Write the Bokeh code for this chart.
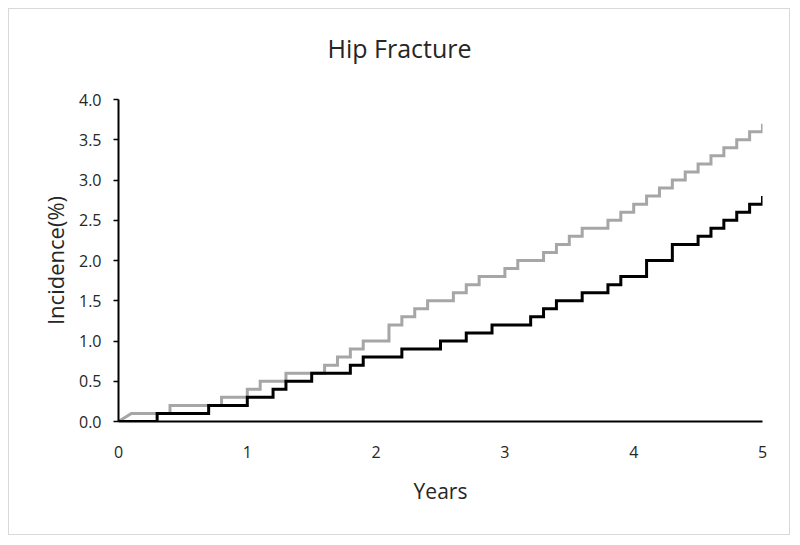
from bokeh.plotting import figure
from bokeh.models import Range1d, FixedTicker, NumeralTickFormatter, Title
from bokeh.embed import file_html
from bokeh.resources import INLINE

chart_title = "Hip Fracture"
x_label = "Years"
y_label = "Incidence(%)"

x_ticks = [0, 1, 2, 3, 4, 5]
y_ticks = [0.0, 0.5, 1.0, 1.5, 2.0, 2.5, 3.0, 3.5, 4.0]

# grey series (event times in years, cumulative incidence in %)
gray_t = [0.0, 0.1, 0.4, 0.8, 1.0, 1.1, 1.3, 1.6, 1.7, 1.8, 1.9,
          2.1, 2.2, 2.3, 2.4, 2.6, 2.7, 2.8, 3.0, 3.1, 3.3, 3.4, 3.5, 3.6,
          3.8, 3.9, 4.0, 4.1, 4.2, 4.3, 4.4, 4.5, 4.6, 4.7, 4.8, 4.9, 5.0]
gray_v = [0.0, 0.1, 0.2, 0.3, 0.4, 0.5, 0.6, 0.7, 0.8, 0.9, 1.0,
          1.2, 1.3, 1.4, 1.5, 1.6, 1.7, 1.8, 1.9, 2.0, 2.1, 2.2, 2.3, 2.4,
          2.5, 2.6, 2.7, 2.8, 2.9, 3.0, 3.1, 3.2, 3.3, 3.4, 3.5, 3.6, 3.7]

# black series
black_t = [0.0, 0.3, 0.7, 1.0, 1.2, 1.3, 1.5, 1.8, 1.9, 2.2, 2.5, 2.7, 2.9,
           3.2, 3.3, 3.4, 3.6, 3.8, 3.9, 4.1, 4.3, 4.5, 4.6, 4.7, 4.8, 4.9, 5.0]
black_v = [0.0, 0.1, 0.2, 0.3, 0.4, 0.5, 0.6, 0.7, 0.8, 0.9, 1.0, 1.1, 1.2,
           1.3, 1.4, 1.5, 1.6, 1.7, 1.8, 2.0, 2.2, 2.3, 2.4, 2.5, 2.6, 2.7, 2.8]


def staircase(ts, vs, direct_first=False):
    xs, ys = [ts[0]], [vs[0]]
    start = 1
    if direct_first:
        xs.append(ts[1]); ys.append(vs[1])
        start = 2
    for i in range(start, len(ts)):
        xs += [ts[i], ts[i]]
        ys += [vs[i - 1], vs[i]]
    return xs, ys


FONT = "Open Sans"
TXT = "#262626"

p = figure(width=782, height=527, output_backend="svg", toolbar_location=None,
           x_range=Range1d(0, 5), y_range=Range1d(0, 4),
           min_border_left=109, min_border_right=29,
           min_border_top=90, min_border_bottom=115)
p.styles = {"border": "1px solid #D9D9D9", "margin-left": "8px", "margin-top": "8px"}
p.outline_line_color = None
p.xgrid.grid_line_color = None
p.ygrid.grid_line_color = None
p.background_fill_color = "white"
p.border_fill_color = "white"

p.title.text = chart_title
p.title.align = "left"
p.title.offset = 209
p.title.standoff = 0
p.title.text_font = FONT
p.title.text_font_size = "25px"
p.title.text_font_style = "normal"
p.title.text_color = TXT

# blank spacer panel between the title and the plot frame
p.add_layout(Title(text=" ", text_font_size="1px", standoff=32), "above")

gx, gy = staircase(gray_t, gray_v, direct_first=True)
bx, by = staircase(black_t, black_v)
p.line(gx, gy, line_color="#A6A6A6", line_width=3, line_join="miter")
p.line(bx, by, line_color="#000000", line_width=3, line_join="miter")

xa = p.xaxis[0]
xa.ticker = FixedTicker(ticks=x_ticks)
xa.axis_line_color = "black"
xa.axis_line_width = 2
xa.major_tick_line_color = None
xa.minor_tick_line_color = None
xa.major_label_standoff = 18
xa.major_label_text_font = FONT
xa.major_label_text_font_size = "16px"
xa.major_label_text_color = TXT
xa.axis_label = x_label
xa.axis_label_standoff = 16
xa.axis_label_text_font = FONT
xa.axis_label_text_font_size = "21px"
xa.axis_label_text_font_style = "normal"
xa.axis_label_text_color = TXT

ya = p.yaxis[0]
ya.ticker = FixedTicker(ticks=y_ticks)
ya.formatter = NumeralTickFormatter(format="0.0")
ya.axis_line_color = "black"
ya.axis_line_width = 2
ya.major_tick_line_color = "black"
ya.major_tick_line_width = 1.5
ya.major_tick_in = 0
ya.major_tick_out = 5
ya.minor_tick_line_color = None
ya.major_label_standoff = 12
ya.major_label_text_font = FONT
ya.major_label_text_font_size = "16px"
ya.major_label_text_color = TXT
ya.axis_label = y_label
ya.axis_label_standoff = 6
ya.axis_label_text_font = FONT
ya.axis_label_text_font_size = "22px"
ya.axis_label_text_font_style = "normal"
ya.axis_label_text_color = TXT

open("out.html", "w").write(file_html(p, INLINE))
